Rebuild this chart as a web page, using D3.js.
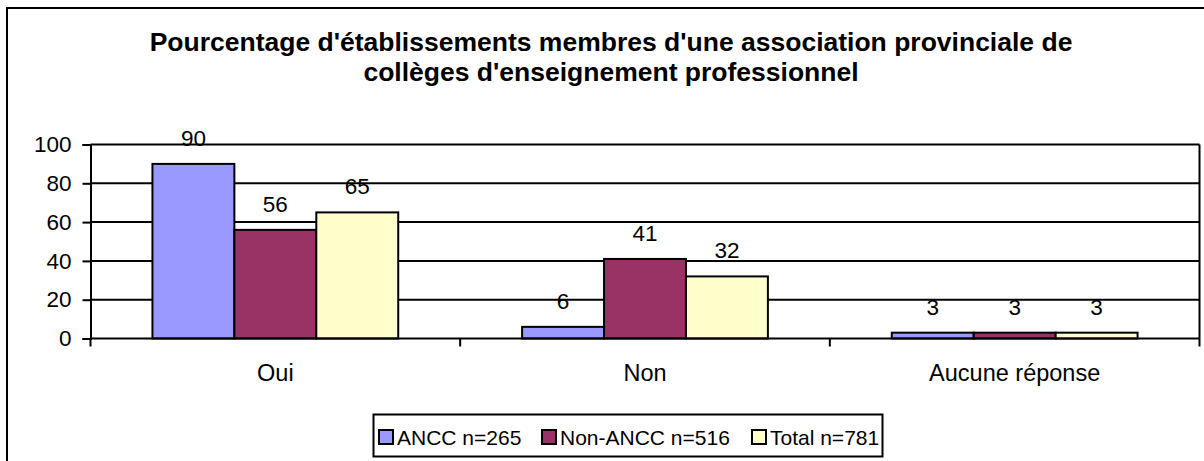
<!DOCTYPE html>
<html>
<head>
<meta charset="utf-8">
<script src="https://cdn.jsdelivr.net/npm/d3@7"></script>
<style>
  body { margin: 0; background: #fff; }
  svg text { font-family: "Liberation Sans", Arial, sans-serif; }
</style>
</head>
<body>
<svg id="chart" width="1204" height="461"></svg>
<script>
// chart data
const categories = ['Oui', 'Non', 'Aucune réponse'];
const seriesNames = ['ANCC n=265', 'Non-ANCC n=516', 'Total n=781'];
const seriesColors = ['#9999FF', '#993366', '#FFFFCC'];
const ancc = [90, 6, 3];
const nonAncc = [56, 41, 3];
const total = [65, 32, 3];
const yTicks = [0, 20, 40, 60, 80, 100];
const titleLines = [
    "Pourcentage d'établissements membres d'une association provinciale de",
    "collèges d'enseignement professionnel"
];

const svg = d3.select('#chart');
const plot = { left: 90.5, right: 1199.5, top: 144.5, bottom: 338.5 };

// outer frame (runs off the right/bottom edge like the original)
svg.append('rect')
    .attr('x', 7).attr('y', 8)
    .attr('width', 1220).attr('height', 480)
    .attr('fill', 'none').attr('stroke', '#000').attr('stroke-width', 2);

// title
svg.append('g').selectAll('text')
    .data(titleLines)
    .join('text')
    .attr('x', 611)
    .attr('y', (d, i) => 51 + i * 30)
    .attr('text-anchor', 'middle')
    .attr('font-size', 26.5)
    .attr('font-weight', 'bold')
    .text(d => d);

const x0 = d3.scaleBand().domain(categories).range([plot.left, plot.right]);
const x1 = d3.scaleBand().domain(seriesNames)
    .range([0, x0.bandwidth()]).paddingOuter(0.756).paddingInner(0);
const y = d3.scaleLinear().domain([0, 100]).range([plot.bottom, plot.top]);

// gridlines
svg.append('g').selectAll('line')
    .data(yTicks.filter(d => d > 0))
    .join('line')
    .attr('x1', plot.left).attr('x2', plot.right)
    .attr('y1', d => y(d)).attr('y2', d => y(d))
    .attr('stroke', '#000').attr('stroke-width', 2);

// right plot border
svg.append('line')
    .attr('x1', plot.right).attr('x2', plot.right)
    .attr('y1', plot.top).attr('y2', plot.bottom)
    .attr('stroke', '#000').attr('stroke-width', 2);

// bars
const rows = categories.map((c, i) => ({ cat: c, vals: [ancc[i], nonAncc[i], total[i]] }));
const groups = svg.append('g').selectAll('g')
    .data(rows)
    .join('g')
    .attr('transform', d => `translate(${x0(d.cat)},0)`);

groups.selectAll('rect')
    .data(d => d.vals.map((v, j) => ({ v, s: seriesNames[j], c: seriesColors[j] })))
    .join('rect')
    .attr('x', d => x1(d.s))
    .attr('y', d => y(d.v))
    .attr('width', x1.bandwidth())
    .attr('height', d => y(0) - y(d.v))
    .attr('fill', d => d.c)
    .attr('stroke', '#000').attr('stroke-width', 2);

groups.selectAll('text')
    .data(d => d.vals.map((v, j) => ({ v, s: seriesNames[j] })))
    .join('text')
    .attr('x', d => x1(d.s) + x1.bandwidth() / 2)
    .attr('y', d => y(d.v) - 18)
    .attr('text-anchor', 'middle')
    .attr('font-size', 22.5)
    .text(d => d.v);

// y axis
const yAxis = svg.append('g')
    .attr('transform', `translate(${plot.left},0)`)
    .call(d3.axisLeft(y).tickValues(yTicks).tickSize(8).tickPadding(11));
yAxis.select('.domain').attr('stroke-width', 2);
yAxis.selectAll('.tick line').attr('stroke-width', 2);
yAxis.selectAll('.tick text')
    .attr('font-size', 22.5)
    .attr('font-family', '"Liberation Sans", Arial, sans-serif')
    .attr('fill', '#000');

// x axis
svg.append('line')
    .attr('x1', plot.left).attr('x2', plot.right)
    .attr('y1', plot.bottom).attr('y2', plot.bottom)
    .attr('stroke', '#000').attr('stroke-width', 2);
const catBounds = [plot.left].concat(categories.map(c => x0(c) + x0.bandwidth()));
svg.append('g').selectAll('line')
    .data(catBounds)
    .join('line')
    .attr('x1', d => d).attr('x2', d => d)
    .attr('y1', plot.bottom).attr('y2', plot.bottom + 8)
    .attr('stroke', '#000').attr('stroke-width', 2);
svg.append('g').selectAll('text')
    .data(categories)
    .join('text')
    .attr('x', d => x0(d) + x0.bandwidth() / 2)
    .attr('y', 381)
    .attr('text-anchor', 'middle')
    .attr('font-size', 23.5)
    .text(d => d);

// legend
const legend = svg.append('g');
legend.append('rect')
    .attr('x', 373.5).attr('y', 414.5)
    .attr('width', 509).attr('height', 42)
    .attr('fill', '#fff').attr('stroke', '#000').attr('stroke-width', 2);
const legendX = [379, 542, 752];
const items = legend.selectAll('g')
    .data(seriesNames)
    .join('g')
    .attr('transform', (d, i) => `translate(${legendX[i]},430)`);
items.append('rect')
    .attr('width', 14).attr('height', 14)
    .attr('fill', (d, i) => seriesColors[i])
    .attr('stroke', '#000').attr('stroke-width', 2);
items.append('text')
    .attr('x', 18).attr('y', 15)
    .attr('font-size', 21)
    .text(d => d);
</script>
</body>
</html>
